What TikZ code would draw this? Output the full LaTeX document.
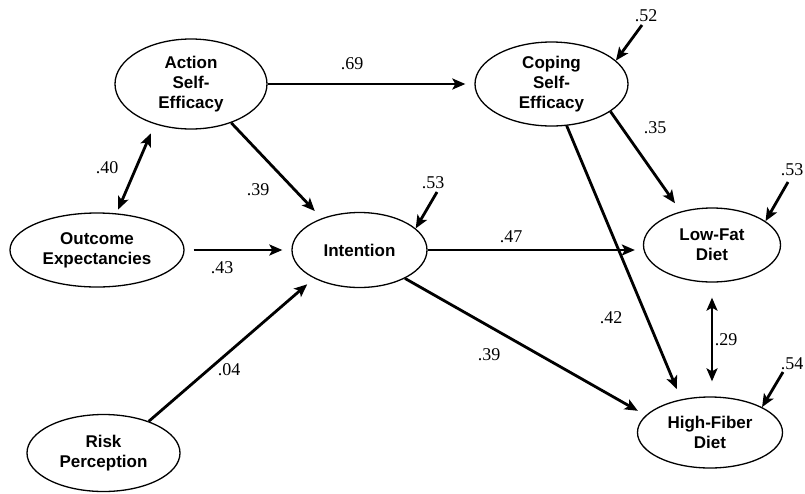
\documentclass[tikz,border=0pt]{standalone}
\usepackage{fontspec}
\setmainfont{Liberation Serif}
\newfontfamily\nodesans{Liberation Sans}
\usetikzlibrary{shapes.geometric,arrows.meta,calc}
\begin{document}
\begin{tikzpicture}[x=1pt,y=-1pt,
  latent/.style={draw, ellipse, line width=1.3pt, inner sep=0pt, align=center,
    font=\nodesans\bfseries\fontsize{17}{20}\selectfont},
  coef/.style={font=\fontsize{18}{20}\selectfont, inner sep=0pt},
  regarrow/.style={line width=2.8pt, -{Stealth[length=13pt,width=11pt,inset=3pt]}},
  corrarrow/.style={line width=2.8pt, {Stealth[length=13pt,width=11pt,inset=3pt]}-{Stealth[length=13pt,width=11pt,inset=3pt]}},
]
\useasboundingbox (0,0) rectangle (805,493);

% latent variables
\node[latent, minimum width=152pt, minimum height=90pt] (act) at (191,84) {Action\\Self-\\Efficacy};
\node[latent, minimum width=153pt, minimum height=84pt] (cop) at (551.5,84) {Coping\\Self-\\Efficacy};
\node[latent, minimum width=174pt, minimum height=74pt] (out) at (97,250) {Outcome\\Expectancies};
\node[latent, minimum width=135pt, minimum height=75pt] (int) at (359.5,250) {Intention};
\node[latent, minimum width=137pt, minimum height=74pt] (lf) at (712,245) {Low-Fat\\Diet};
\node[latent, minimum width=145pt, minimum height=71pt] (hf) at (710,432.5) {High-Fiber\\Diet};
\node[latent, minimum width=153pt, minimum height=77pt] (risk) at (103.5,453) {Risk\\Perception};

% paths
\draw[regarrow, shorten >=9pt] (act) -- (cop);
\draw[regarrow, shorten >=10pt] (act.-44) -- (int.140);
\draw[corrarrow, shorten <=10pt, shorten >=4pt] (act.-132) -- (out.62);
\draw[regarrow, shorten <=9pt, shorten >=9pt] (out) -- (int);
\draw[regarrow, shorten >=9pt] (risk.35) -- (int.-148);
\draw[regarrow, shorten >=8pt] (int.east) -- (int.east -| lf.west);
\draw[regarrow, shorten >=9pt] (int.-32) -- (hf.165);
\draw[regarrow, shorten >=10pt] (cop.-25) -- (lf.133);
\draw[regarrow, shorten >=11pt] (cop.-70) -- (hf.131);
\draw[corrarrow, shorten <=15pt, shorten >=15pt] (lf.south) -- (lf.south |- hf.north);

% residuals
\coordinate (e1) at (437,192);
\coordinate (e2) at (642,25);
\coordinate (e3) at (788,182);
\coordinate (e4) at (783,372);
\draw[regarrow] (e1) -- (int.21);
\draw[regarrow] (e2) -- (cop.20);
\draw[regarrow] (e3) -- (lf.24);
\draw[regarrow] (e4) -- (hf.26);

% coefficients
\node[coef] (c69) at (352,64) {.69};
\node[coef] (c39a) at (258,190) {.39};
\node[coef] (c40) at (107,168) {.40};
\node[coef] (c43) at (222,268) {.43};
\node[coef] (c04) at (229,370) {.04};
\node[coef] (c53a) at (433,183) {.53};
\node[coef] (c47) at (511,237) {.47};
\node[coef] (c39b) at (489,355) {.39};
\node[coef] (c35) at (655,128) {.35};
\node[coef] (c42) at (611,318) {.42};
\node[coef] (c29) at (726,340) {.29};
\node[coef] (c52) at (646,16) {.52};
\node[coef] (c53b) at (792,170) {.53};
\node[coef] (c54) at (792,364) {.54};
\end{tikzpicture}
\end{document}
